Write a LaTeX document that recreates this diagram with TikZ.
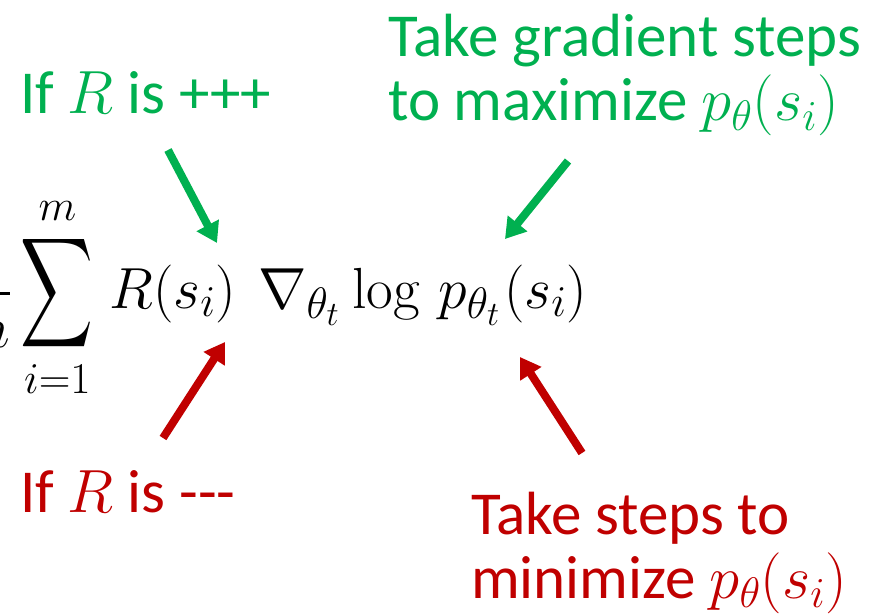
\documentclass[tikz,border=0pt]{standalone}
\usepackage{fix-cm}
\usepackage[no-math]{fontspec}
\DeclareFontShape{OMX}{cmex}{m}{n}{<-> cmex10}{}
\DeclareMathSizes{58}{58}{44}{34}
\setmainfont{Carlito}
\usetikzlibrary{arrows.meta}
\definecolor{offgreen}{RGB}{0,176,80}
\definecolor{offred}{RGB}{192,0,0}
\tikzset{
  lbl/.style={inner sep=0pt, anchor=base west, align=left, font=\fontsize{61}{64}\selectfont},
  greenlbl/.style={lbl, text=offgreen},
  redlbl/.style={lbl, text=offred},
  ptr/.style={line width=8pt, -{Triangle[width=24pt,length=20pt]}},
  greenptr/.style={ptr, draw=offgreen},
  redptr/.style={ptr, draw=offred}
}
\begin{document}
\begin{tikzpicture}[x=1pt,y=-1pt]
\useasboundingbox (0,0) rectangle (884,615);
\clip (0,0) rectangle (884,615);
\fill[white] (0,0) rectangle (884,615);
% formula
\node[inner sep=0pt, anchor=base west, font=\fontsize{58}{70}\selectfont] (formula) at (-41,308)
  {$\displaystyle \frac{1}{m}\mathop{\vcenter{\hbox{\scalebox{0.87}[1.32]{$\displaystyle\sum$}}}}\limits_{i=1}^{m}\hspace{6pt}
   R(s_i)\hspace{22pt}\nabla_{\theta_t}\hspace{3pt}\log\hspace{8pt} p_{\theta_t}\hspace{4pt}(s_i)$};
% labels (anchor at baseline of last line)
\node[greenlbl] (plus) at (20,114) {If $R$ is +++};
\node[greenlbl] (maxi) at (388,121) {Take gradient steps\\to maximize $p_\theta(s_i)$};
\node[redlbl] (minus) at (20,512) {If $R$ is -{}-{}-};
\node[redlbl] (mini) at (471,598) {Take steps to\\minimize $p_\theta(s_i)$};
% arrow ends
\coordinate (g1s) at (168,150); \coordinate (g1e) at (217,243);
\coordinate (g2s) at (568,161); \coordinate (g2e) at (505,239);
\coordinate (r1s) at (163,438); \coordinate (r1e) at (225,342);
\coordinate (r2s) at (582,453); \coordinate (r2e) at (520,357);
\draw[greenptr] (g1s) -- (g1e);
\draw[greenptr] (g2s) -- (g2e);
\draw[redptr] (r1s) -- (r1e);
\draw[redptr] (r2s) -- (r2e);
\end{tikzpicture}
\end{document}
